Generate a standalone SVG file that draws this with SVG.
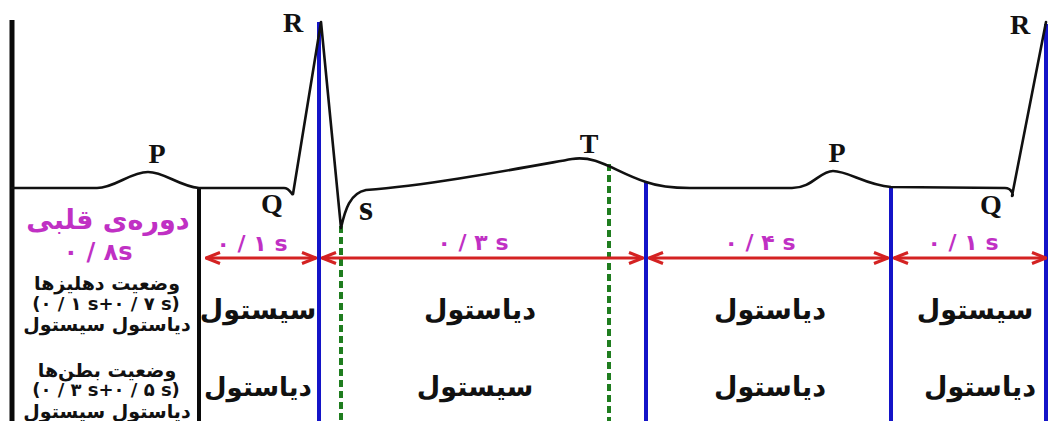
<svg xmlns="http://www.w3.org/2000/svg" width="1049" height="421" viewBox="0 0 1049 421">
<style>
.bg{fill:#ffffff}
.wave{fill:none;stroke:#111;stroke-width:2.6;stroke-linejoin:round;stroke-linecap:round}
.frame{stroke:#0a0a0a;fill:none}
.blue{stroke:#1414c8;stroke-width:4;fill:none}
.green{stroke:#1f7d1f;stroke-width:4;stroke-dasharray:7 4;fill:none}
.arrow{stroke:#d42222;stroke-width:3;fill:none}
.lbl{font-family:"Liberation Serif",serif;font-weight:bold;font-size:28px;fill:#111;text-anchor:middle}
.pur{font-family:"DejaVu Sans",sans-serif;font-weight:bold;fill:#c030c4;text-anchor:middle}
.fa{font-family:"DejaVu Sans",sans-serif;font-weight:bold;fill:#111;text-anchor:middle}
</style>
<defs>
<marker id="ah" viewBox="0 0 16 14" refX="15" refY="7" markerWidth="16" markerHeight="14" orient="auto-start-reverse" markerUnits="userSpaceOnUse">
<path d="M1,1.5 L15,7 L1,12.5" fill="none" stroke="#d42222" stroke-width="3" stroke-linejoin="miter"/>
</marker>
</defs>
<rect class="bg" x="0" y="0" width="1049" height="421"/>

<g id="frame">
<line class="frame" x1="12" y1="20" x2="12" y2="421" stroke-width="5"/>
<line class="frame" x1="199" y1="187" x2="199" y2="421" stroke-width="4"/>
</g>

<g id="connectors">
<line class="blue" x1="319" y1="22" x2="319" y2="421"/>
<line class="blue" x1="646" y1="182" x2="646" y2="421"/>
<line class="blue" x1="891" y1="186" x2="891" y2="421"/>
<line class="blue" x1="1046" y1="24" x2="1046" y2="421" stroke-width="3"/>
<line class="green" x1="341" y1="226" x2="341" y2="421"/>
<line class="green" x1="609" y1="164" x2="609" y2="421"/>
<line class="arrow" x1="206" y1="258" x2="316" y2="258" marker-start="url(#ah)" marker-end="url(#ah)"/>
<line class="arrow" x1="322" y1="258" x2="643" y2="258" marker-start="url(#ah)" marker-end="url(#ah)"/>
<line class="arrow" x1="649" y1="258" x2="888" y2="258" marker-start="url(#ah)" marker-end="url(#ah)"/>
<line class="arrow" x1="894" y1="258" x2="1046" y2="258" marker-start="url(#ah)" marker-end="url(#ah)"/>
</g>

<g id="ecg">
<path class="wave" d="M12,188 L97,188 C115,188 130,172 148,172 C165,172 178,186 199,188 L284,188 C290,188 292,196 293,194 L321,22 L341,228 C345,210 350,193 366,190 C430,185 510,170 572,159 C598,155 615,172 646,182 C660,187 672,188 690,188 L792,188 C812,188 820,171 833,171 C848,171 866,185 891,187 L1005,188 C1012,188 1014,196 1012,196 L1046,22"/>
</g>

<g id="wave-labels">
<text class="lbl" x="157" y="163">P</text>
<text class="lbl" x="293" y="32">R</text>
<text class="lbl" x="272" y="213">Q</text>
<text class="lbl" x="366" y="220" style="font-size:36px">s</text>
<text class="lbl" x="589" y="153">T</text>
<text class="lbl" x="837" y="162">P</text>
<text class="lbl" x="1020" y="34">R</text>
<text class="lbl" x="991" y="214">Q</text>
</g>

<g id="cycle-info">
<text class="pur" x="108" y="229" font-size="27">دوره‌ی قلبی</text>
<text class="pur" x="98" y="260" font-size="24">۰ / ۸s</text>
<text class="fa" x="107" y="290" font-size="19">وضعیت دهلیزها</text>
<text class="fa" x="106" y="310" font-size="18">(۰ / ۱ s+۰ / ۷ s)</text>
<text class="fa" x="107" y="331" font-size="19">دیاستول سیستول</text>
<text class="fa" x="107" y="377" font-size="19">وضعیت بطن‌ها</text>
<text class="fa" x="106" y="396" font-size="18">(۰ / ۳ s+۰ / ۵ s)</text>
<text class="fa" x="107" y="418" font-size="19">دیاستول سیستول</text>
</g>

<g id="durations">
<text class="pur" x="252" y="251" font-size="22">۰ / ۱ s</text>
<text class="pur" x="473" y="250" font-size="22">۰ / ۳  s</text>
<text class="pur" x="760" y="250" font-size="22">۰ / ۴ s</text>
<text class="pur" x="963" y="250" font-size="22">۰ / ۱ s</text>
</g>

<g id="phase-labels">
<text class="fa" x="258" y="319" font-size="27">سیستول</text>
<text class="fa" x="258" y="396" font-size="26">دیاستول</text>
<text class="fa" x="480" y="319" font-size="27">دیاستول</text>
<text class="fa" x="475" y="396" font-size="27">سیستول</text>
<text class="fa" x="770" y="319" font-size="27">دیاستول</text>
<text class="fa" x="770" y="396" font-size="27">دیاستول</text>
<text class="fa" x="975" y="319" font-size="27">سیستول</text>
<text class="fa" x="980" y="396" font-size="27">دیاستول</text>
</g>
</svg>
